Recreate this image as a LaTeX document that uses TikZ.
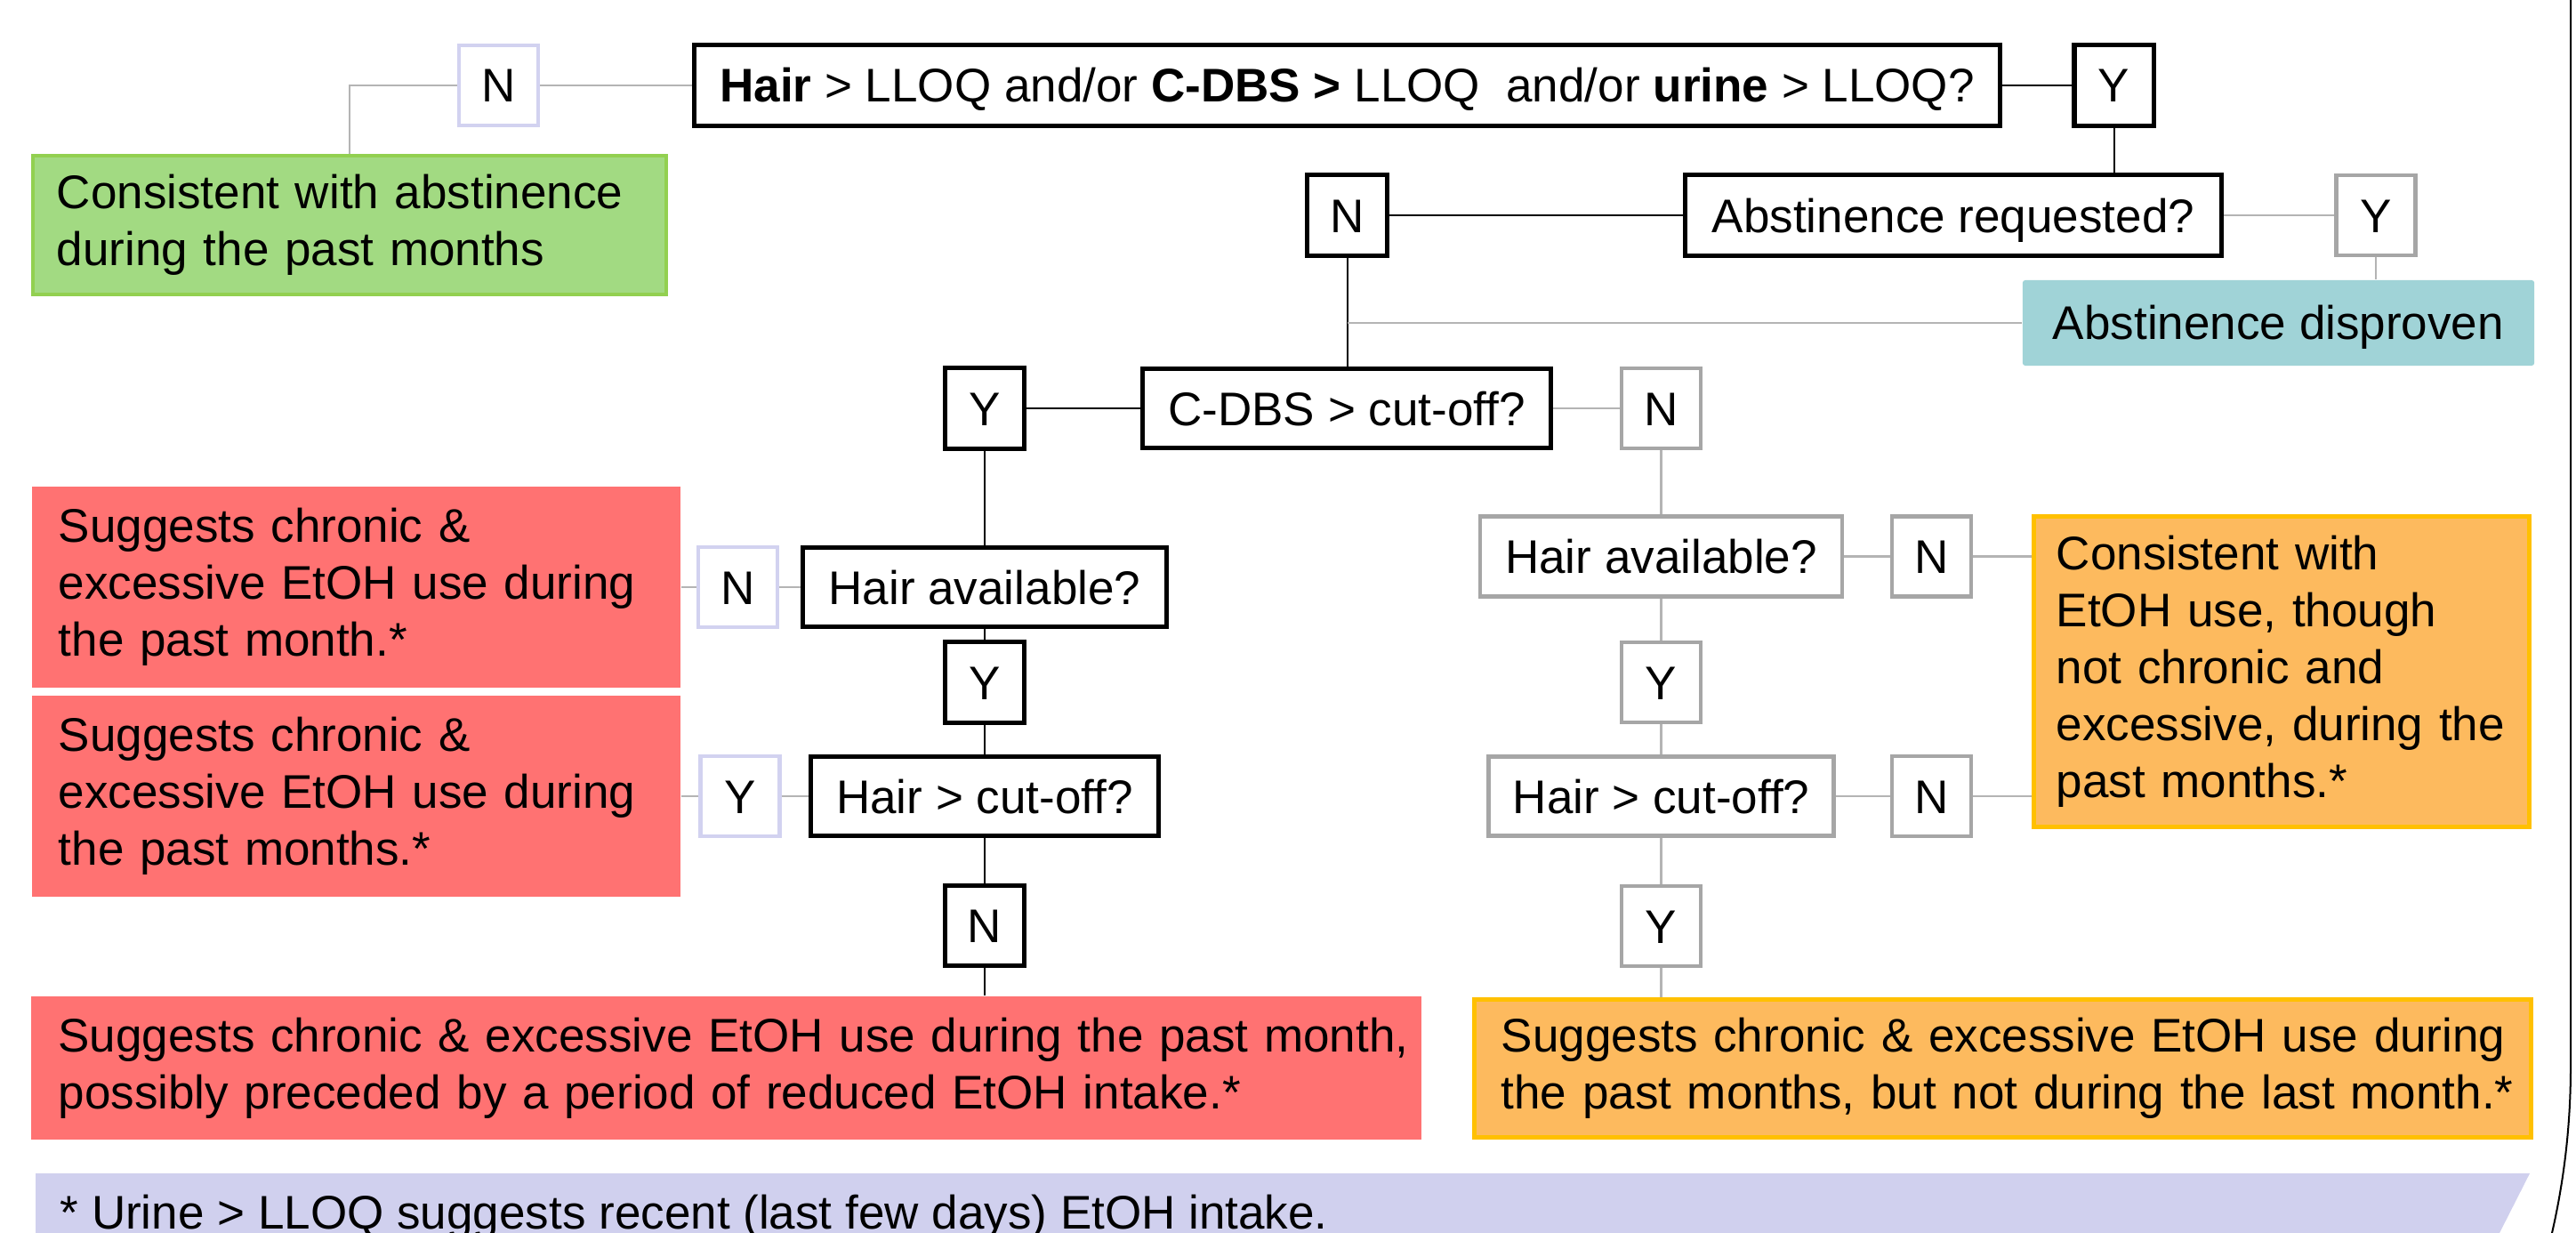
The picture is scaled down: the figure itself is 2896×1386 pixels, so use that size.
\documentclass[tikz,border=0pt]{standalone}
\usepackage{fontspec}
\setmainfont{Liberation Sans}
\definecolor{lav}{HTML}{D2D2F0}
\definecolor{lavf}{HTML}{D0D0EE}
\definecolor{greyb}{HTML}{A6A6A6}
\definecolor{greyl}{HTML}{B4B4B4}
\definecolor{greenf}{HTML}{A2DA82}
\definecolor{greenb}{HTML}{92D050}
\definecolor{tealf}{HTML}{A0D3D7}
\definecolor{redf}{HTML}{FF7272}
\definecolor{orangef}{HTML}{FDBA5E}
\definecolor{orangeb}{HTML}{FFC000}
\newcommand\fsz{\fontsize{15.08pt}{18.21pt}\selectfont}
\begin{document}
\begin{tikzpicture}[x=0.01cm,y=-0.01cm,font=\fsz]
\tikzset{
 base/.style={rectangle, inner sep=0pt, text height=0.38cm, text depth=0cm, align=center},
 qbox/.style={base, draw=black, line width=0.05cm, fill=white},
 gbox/.style={base, draw=greyb, line width=0.045cm, fill=white},
 lbox/.style={base, draw=lav, line width=0.045cm, fill=white},
 sq/.style={minimum width=0.89cm, minimum height=0.9cm},
 res/.style={rectangle, inner ysep=0pt, align=left},
 bl/.style={draw=black, line width=0.02cm},
 gl/.style={draw=greyl, line width=0.025cm},
}
\fill[white] (0,0) rectangle (2896,1386);
\useasboundingbox (0,0) rectangle (2896,1386);

% footer banner
\fill[lavf] (40,1319) -- (2844,1319) -- (2810,1386) -- (40,1386) -- cycle;
\node[anchor=base west, inner sep=0pt] (foot) at (67,1382) {* Urine > LLOQ suggests recent (last few days) EtOH intake.};

% right frame line
\draw[line width=0.02cm] (2890,-5) -- (2890,1200) .. controls (2890,1262.7) and (2883,1325) .. (2869,1386) -- (2866,1400);

% top row
\node[lbox, sq] (n0) at (560.5,96) {N};
\node[qbox, minimum width=14.68cm, minimum height=0.91cm] (q) at (1514.5,96) {\textbf{Hair} > LLOQ and/or \textbf{C-DBS >} LLOQ~ and/or \textbf{urine} > LLOQ?};
\node[qbox, sq] (y0) at (2376.5,96) {Y};
\node[res, fill=greenf, draw=greenb, line width=0.04cm, text width=6.58cm, inner xsep=0.27cm, minimum height=1.56cm] (green) at (393,253) {\mbox{Consistent with abstinence}\\\mbox{during the past months}};

% second row
\node[qbox, sq] (n1) at (1514.5,242) {N};
\node[qbox, minimum width=6.03cm, minimum height=0.91cm] (areq) at (2196,242) {Abstinence requested?};
\node[gbox, sq] (y1) at (2671,242) {Y};
\node[base, fill=tealf, rounded corners=0.03cm, minimum width=5.75cm, minimum height=0.96cm] (adis) at (2561.5,363) {Abstinence disproven};

% third row
\node[qbox, sq] (yL1) at (1107,459) {Y};
\node[qbox, minimum width=4.59cm, minimum height=0.89cm] (cdbs) at (1514,459) {C-DBS > cut-off?};
\node[gbox, sq] (nR1) at (1867.5,459) {N};

% left column
\node[res, fill=redf, text width=6.69cm, inner xsep=0.30cm, minimum height=2.26cm] (red1) at (400.5,660) {\mbox{Suggests chronic \&}\\\mbox{excessive EtOH use during}\\\mbox{the past month.*}};
\node[lbox, sq] (nL2) at (829.5,660) {N};
\node[qbox, minimum width=4.09cm, minimum height=0.89cm] (havL) at (1107,660) {Hair available?};
\node[qbox, sq] (yL2) at (1107,767) {Y};
\node[res, fill=redf, text width=6.69cm, inner xsep=0.30cm, minimum height=2.26cm] (red2) at (400.5,895) {\mbox{Suggests chronic \&}\\\mbox{excessive EtOH use during}\\\mbox{the past months.*}};
\node[lbox, sq] (yL3) at (832,895) {Y};
\node[qbox, minimum width=3.90cm, minimum height=0.89cm] (hcL) at (1107,895) {Hair > cut-off?};
\node[qbox, sq] (nL4) at (1107,1040.5) {N};
\node[res, fill=redf, text width=15.01cm, inner xsep=0.31cm, minimum height=1.61cm] (red3) at (816.5,1200.5) {\mbox{Suggests chronic \& excessive EtOH use during the past month,}\\\mbox{possibly preceded by a period of reduced EtOH intake.*}};

% right column
\node[gbox, minimum width=4.07cm, minimum height=0.90cm] (havR) at (1867.5,625.5) {Hair available?};
\node[gbox, sq] (nR2) at (2171.5,625.5) {N};
\node[res, fill=orangef, draw=orangeb, line width=0.05cm, text width=5.06cm, inner xsep=0.255cm, minimum height=3.49cm] (or1) at (2565,755) {\mbox{Consistent with}\\\mbox{EtOH use, though}\\\mbox{not chronic and}\\\mbox{excessive, during the}\\\mbox{past months.*}};
\node[gbox, sq] (yR2) at (1867.5,767) {Y};
\node[gbox, minimum width=3.88cm, minimum height=0.89cm] (hcR) at (1867.5,895) {Hair > cut-off?};
\node[gbox, sq] (nR3) at (2171.5,895) {N};
\node[gbox, sq] (yR3) at (1867.5,1041) {Y};
\node[res, fill=orangef, draw=orangeb, line width=0.05cm, text width=11.27cm, inner xsep=0.305cm, minimum height=1.55cm] (or2) at (2251.5,1201) {\mbox{Suggests chronic \& excessive EtOH use during}\\\mbox{the past months, but not during the last month.*}};

% black connectors
\draw[bl] (q.east) -- (y0.west);
\draw[bl] (y0.south) -- (y0.south |- areq.north);
\draw[bl] (n1.east) -- (areq.west);
\draw[bl] (n1.south) -- (n1.south |- cdbs.north);
\draw[bl] (yL1.east) -- (cdbs.west);
\draw[bl] (yL1.south) -- (havL.north);
\draw[bl] (havL.south) -- (yL2.north);
\draw[bl] (yL2.south) -- (hcL.north);
\draw[bl] (hcL.south) -- (nL4.north);
\draw[bl] (nL4.south) -- (nL4.south |- red3.north);

% grey connectors
\draw[gl] (n0.east) -- (q.west);
\draw[gl] (n0.west) -| (green.north);
\draw[gl] (areq.east) -- (y1.west);
\draw[gl] (y1.south) -- (y1.south |- adis.north);
\draw[gl] (n1.south |- adis.west) -- (adis.west);
\draw[gl] (cdbs.east) -- (nR1.west);
\draw[gl] (nR1.south) -- (havR.north);
\draw[gl] (havR.east) -- (nR2.west);
\draw[gl] (nR2.east) -- (nR2.east -| or1.west);
\draw[gl] (havR.south) -- (yR2.north);
\draw[gl] (yR2.south) -- (hcR.north);
\draw[gl] (hcR.east) -- (nR3.west);
\draw[gl] (nR3.east) -- (nR3.east -| or1.west);
\draw[gl] (hcR.south) -- (yR3.north);
\draw[gl] (yR3.south) -- (yR3.south |- or2.north);
\draw[gl] (nL2.east) -- (havL.west);
\draw[gl] (nL2.west) -- (red1.east);
\draw[gl] (yL3.east) -- (hcL.west);
\draw[gl] (yL3.west) -- (red2.east);
\end{tikzpicture}
\end{document}
